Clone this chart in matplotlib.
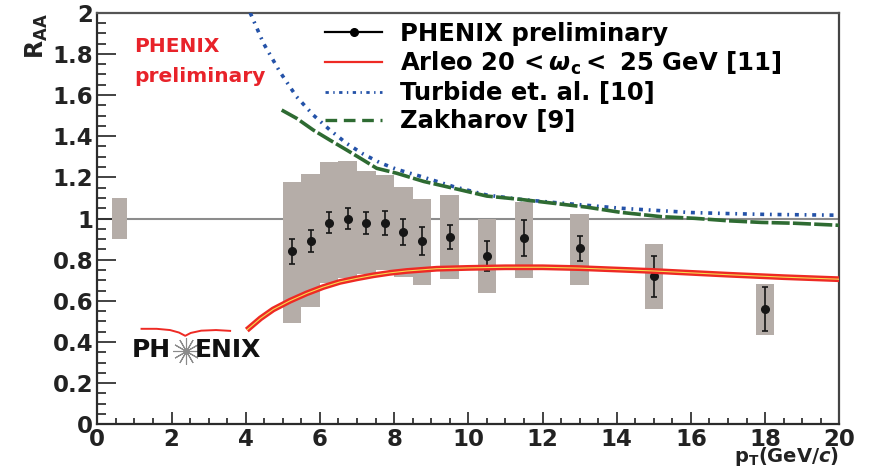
import numpy as np
import matplotlib
matplotlib.use("Agg")
import matplotlib.pyplot as plt
from matplotlib.lines import Line2D
from matplotlib.ticker import MultipleLocator, FuncFormatter

plt.rcParams['font.family'] = ['DejaVu Sans']
plt.rcParams['font.weight'] = 'bold'

# measured R_AA points
pt = [5.25, 5.75, 6.25, 6.75, 7.25, 7.75, 8.25, 8.75, 9.5, 10.5, 11.5, 13.0, 15.0, 18.0]
raa = [0.84, 0.89, 0.98, 1.00, 0.98, 0.98, 0.935, 0.89, 0.91, 0.82, 0.905, 0.855, 0.72, 0.56]
stat = [0.060, 0.054, 0.050, 0.051, 0.054, 0.058, 0.062, 0.068, 0.058, 0.073, 0.087, 0.060, 0.100, 0.106]
syst_lo = [0.494, 0.571, 0.687, 0.712, 0.729, 0.749, 0.715, 0.678, 0.708, 0.640, 0.713, 0.678, 0.562, 0.435]
syst_hi = [1.177, 1.216, 1.275, 1.280, 1.231, 1.211, 1.153, 1.095, 1.114, 1.000, 1.082, 1.022, 0.876, 0.682]

# global normalisation uncertainty
norm_pt = 0.6
norm_lo, norm_hi = 0.9, 1.1

# theory curves
arleo_pt = [4.03, 4.4, 4.74, 5.19, 5.64, 6.09, 6.54, 6.99, 7.44, 7.89, 8.34, 9.15, 10.0, 11.0,
            12.0, 13.0, 14.0, 15.0, 16.0, 17.0, 18.5, 20.0]
arleo = [0.458, 0.515, 0.558, 0.600, 0.636, 0.667, 0.692, 0.709, 0.724, 0.736, 0.745, 0.756, 0.760, 0.763,
         0.763, 0.759, 0.752, 0.745, 0.736, 0.727, 0.715, 0.705]

turbide_pt = [4.12, 4.48, 4.92, 5.37, 5.82, 6.27, 6.72, 7.17, 7.62, 8.07, 8.75, 9.6, 10.5, 11.4,
              12.3, 13.2, 14.1, 15.0, 16.0, 17.0, 18.0, 19.0, 20.0]
turbide = [2.0, 1.851, 1.713, 1.592, 1.503, 1.430, 1.365, 1.313, 1.271, 1.239, 1.203, 1.155, 1.114, 1.093,
           1.078, 1.064, 1.050, 1.040, 1.029, 1.024, 1.020, 1.018, 1.016]

zakharov_pt = [4.97, 5.37, 5.82, 6.27, 6.72, 7.17, 7.53, 8.07, 8.8, 9.6, 10.5, 11.4, 12.3, 13.2,
               14.1, 15.2, 16.1, 17.0, 17.9, 18.8, 20.0]
zakharov = [1.527, 1.487, 1.430, 1.381, 1.333, 1.284, 1.244, 1.220, 1.180, 1.147, 1.109, 1.093, 1.074, 1.055,
            1.030, 1.009, 1.001, 0.989, 0.981, 0.977, 0.967]

box_col = '#b5ada8'
red = '#ee2a24'
blue = '#2452a8'
green = '#2e6b32'

fig = plt.figure(figsize=(8.72, 4.69), dpi=100)
ax = fig.add_axes([0.1116, 0.0953, 0.8509, 0.8776])
ax.set_xlim(0, 20)
ax.set_ylim(0, 2)

ax.axhline(1.0, color='#8c8c8c', lw=1.5, zorder=1)

# systematic boxes
syst_lo = np.array(syst_lo)
syst_hi = np.array(syst_hi)
ax.bar(pt, syst_hi - syst_lo, bottom=syst_lo, width=0.5, color=box_col, lw=0, zorder=2)
ax.bar(norm_pt, norm_hi - norm_lo, bottom=norm_lo, width=0.4, color=box_col, lw=0, zorder=2)

ax.errorbar(pt, raa, yerr=stat, fmt='o', color='#161616', ms=5.5, capsize=2.5,
            elinewidth=1.2, capthick=1.2, zorder=4)

ax.plot(turbide_pt, turbide, color=blue, lw=2.6, ls=(0, (1.1, 1.6, 0.5, 1.6)), zorder=3)
ax.plot(zakharov_pt, zakharov, color=green, lw=2.6, ls=(0, (5, 0.9)), zorder=3)
ax.plot(arleo_pt, arleo, color=red, lw=4.2, solid_capstyle='butt', zorder=5)
ax.plot(arleo_pt, arleo, color='#f5dd50', lw=0.8, solid_capstyle='butt', zorder=6)

# axes styling
for side in ['left', 'bottom', 'top', 'right']:
    ax.spines[side].set_linewidth(1.6)
    ax.spines[side].set_color('#2b2b2b')
ax.spines['top'].set_color('#555555')
ax.spines['right'].set_color('#444444')

ax.xaxis.set_major_locator(MultipleLocator(2))
ax.xaxis.set_minor_locator(MultipleLocator(0.5))
ax.yaxis.set_major_locator(MultipleLocator(0.2))
ax.yaxis.set_minor_locator(MultipleLocator(0.05))
ax.yaxis.set_major_formatter(FuncFormatter(lambda v, p: '%g' % round(v, 2)))
ax.tick_params(axis='y', which='major', direction='in', length=13.7, width=1.2, labelsize=16.5,
               pad=3, colors='#222222')
ax.tick_params(axis='y', which='minor', direction='in', length=6.7, width=1.2, colors='#222222')
ax.tick_params(axis='x', which='major', direction='in', length=8.4, width=1.2, labelsize=16.5,
               pad=3, colors='#222222')
ax.tick_params(axis='x', which='minor', direction='in', length=4.3, width=1.2, colors='#222222')
ax.tick_params(top=False, right=False, which='both')

ax.text(-0.081, 1.0, r'$\mathrm{R_{AA}}$', transform=ax.transAxes, rotation=90,
        ha='center', va='top', fontsize=17, color='#222222')
ax.text(1.0, -0.091, r'p$_\mathbf{T}$(GeV/$\mathbfit{c}$)', transform=ax.transAxes,
        ha='right', va='baseline', fontsize=14, color='#222222')

# red "preliminary" stamp
ax.text(0.05, 0.917, 'PHENIX', transform=ax.transAxes, ha='left', va='center',
        fontsize=14.5, color='#e8232a')
ax.text(0.05, 0.844, 'preliminary', transform=ax.transAxes, ha='left', va='center',
        fontsize=14.5, color='#e8232a')

# PHENIX logo
ax.text(0.047, 0.181, 'PH', transform=ax.transAxes, ha='left', va='center',
        fontsize=18, color='#111111')
ax.text(0.131, 0.181, 'ENIX', transform=ax.transAxes, ha='left', va='center',
        fontsize=18, color='#111111')
ax.plot([0.1195], [0.178], transform=ax.transAxes, marker=(12, 2, 0), ms=19,
        mew=0.8, color='#8a8a8a', clip_on=False)
ax.plot([0.0596, 0.0800, 0.0980, 0.110, 0.1185, 0.126, 0.140, 0.160, 0.179],
        [0.2320, 0.2320, 0.2290, 0.2230, 0.2150, 0.2220, 0.2275, 0.2290, 0.2270],
        transform=ax.transAxes, color=red, lw=1.4, clip_on=False)

handles = [
    Line2D([], [], color='black', marker='o', ms=5.5, lw=1.6),
    Line2D([], [], color=red, lw=1.6),
    Line2D([], [], color=blue, lw=2.0, ls=(0, (1.2, 1.6, 0.5, 1.6))),
    Line2D([], [], color=green, lw=2.4, ls=(0, (3.5, 2))),
]
labels = ['PHENIX preliminary',
          r'Arleo 20$\,<\omega_{\mathbf{c}}<$ 25 GeV [11]',
          'Turbide et. al. [10]',
          'Zakharov [9]']
ax.legend(handles, labels, loc='upper left', bbox_to_anchor=(0.307, 0.978), frameon=False,
          borderaxespad=0, borderpad=0, handlelength=2.35, handletextpad=0.72,
          labelspacing=0.17, prop={'size': 17.5, 'weight': 'bold'})

fig.savefig('out.png', dpi=100)
